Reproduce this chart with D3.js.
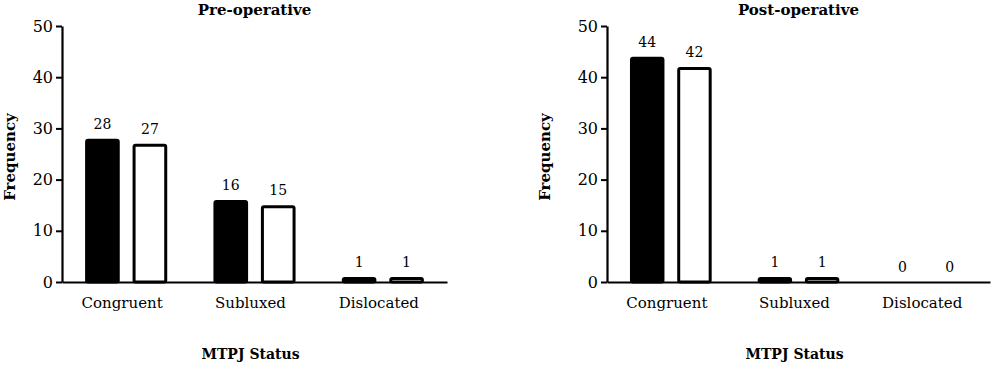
<!DOCTYPE html>
<html><head><meta charset="utf-8">
<script src="https://cdn.jsdelivr.net/npm/d3@7"></script>
<style>body{margin:0;background:#fff}svg{display:block}</style>
</head><body>
<svg id="c" width="1000" height="365"></svg>
<script>
const categories = ["Congruent", "Subluxed", "Dislocated"];
const series = ["A", "B"];
const preValues = [[28, 27], [16, 15], [1, 1]];
const postValues = [[44, 42], [1, 1], [0, 0]];
const yTicks = [0, 10, 20, 30, 40, 50];
const titles = ["Pre-operative", "Post-operative"];
const xTitle = "MTPJ Status";
const yTitle = "Frequency";

const FONT = "DejaVu Serif";
const svg = d3.select("#c");
const panels = [
  {title: titles[0], values: preValues, x0: 62, x1: 447, yLab: 10},
  {title: titles[1], values: postValues, x0: 607, x1: 990, yLab: 545}
];
const y = d3.scaleLinear().domain([0, 50]).range([282, 26]);

panels.forEach(p => {
  const g = svg.append("g");
  const xb = d3.scaleBand().domain(categories).range([p.x0, p.x1]);
  const bw = xb.bandwidth();
  const xs = d3.scaleBand().domain(series).range([bw * 0.18, bw * 0.82]).paddingInner(0.27);

  // bars
  categories.forEach((c, i) => {
    series.forEach((s, j) => {
      const v = p.values[i][j];
      const bx = xb(c) + xs(s);
      if (v > 0) {
        g.append("rect")
          .attr("x", bx + 1.5).attr("width", xs.bandwidth() - 3)
          .attr("y", y(v) + 1.5).attr("height", y(0) - y(v) - 1.5)
          .attr("rx", 1.5)
          .attr("fill", j === 0 ? "#000" : "#fff")
          .attr("stroke", "#000").attr("stroke-width", 3);
      }
      g.append("text")
        .attr("x", bx + xs.bandwidth() / 2)
        .attr("y", y(v) - 10)
        .attr("text-anchor", "middle")
        .attr("font-family", FONT).attr("font-size", 14)
        .text(v);
    });
  });

  // y axis
  const ya = g.append("g").attr("transform", `translate(${p.x0},0)`)
    .call(d3.axisLeft(y).tickValues(yTicks).tickSize(6).tickPadding(3).tickSizeOuter(0));
  ya.select(".domain").attr("stroke-width", 2.2).attr("stroke", "#000");
  ya.selectAll(".tick line").attr("stroke-width", 2).attr("stroke", "#000");
  ya.selectAll("text").attr("font-family", FONT).attr("font-size", 16).attr("fill", "#000");

  // x axis
  const xa = g.append("g").attr("transform", `translate(0,${y(0)})`)
    .call(d3.axisBottom(xb).tickSize(0).tickPadding(15));
  xa.select(".domain").attr("stroke-width", 2.2).attr("stroke", "#000");
  xa.selectAll("text").attr("font-family", FONT).attr("font-size", 15).attr("fill", "#000")
    .attr("dx", -4);

  // titles
  g.append("text").attr("x", (p.x0 + p.x1) / 2).attr("y", 15)
    .attr("text-anchor", "middle").attr("font-family", FONT).attr("font-weight", "bold")
    .attr("font-size", 15).text(p.title);
  g.append("text").attr("x", (p.x0 + p.x1) / 2 - 4).attr("y", 359)
    .attr("text-anchor", "middle").attr("font-family", FONT).attr("font-weight", "bold")
    .attr("font-size", 14).text(xTitle);
  g.append("text").attr("transform", `translate(${p.yLab + 5},${(y(0) + y(50)) / 2 + 3}) rotate(-90)`)
    .attr("text-anchor", "middle").attr("font-family", FONT).attr("font-weight", "bold")
    .attr("font-size", 15).text(yTitle);
});
</script>
</body></html>
